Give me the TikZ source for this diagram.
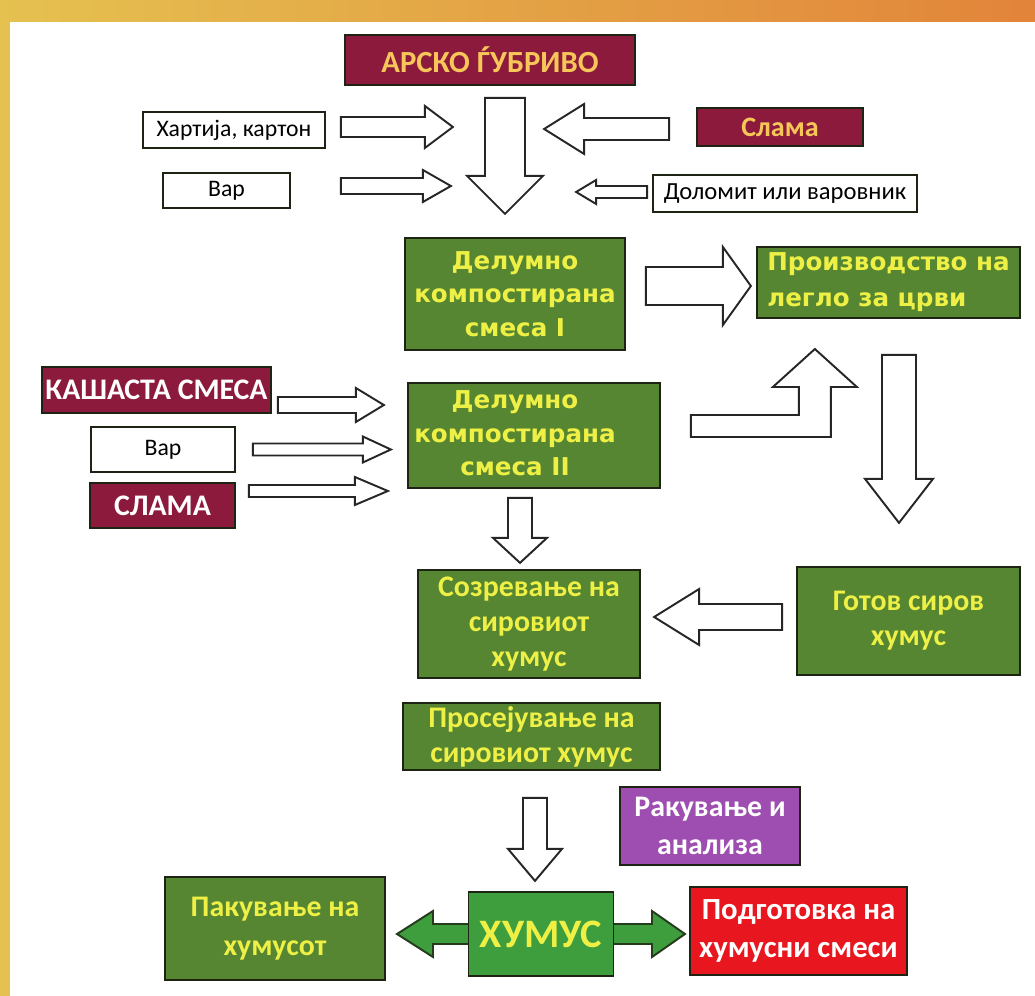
\documentclass[tikz,border=0pt]{standalone}
\usepackage{fontspec}
\setmainfont{Carlito}
\newfontfamily\dejavu{DejaVu Sans}
\usetikzlibrary{calc}

\definecolor{frameyellow}{RGB}{229,193,80}
\definecolor{frameorange}{RGB}{226,132,58}
\definecolor{leafgreen}{RGB}{86,134,50}
\definecolor{humgreen}{RGB}{62,158,62}
\definecolor{wine}{RGB}{140,26,60}
\definecolor{violetbox}{RGB}{158,78,176}
\definecolor{redbox}{RGB}{232,22,30}
\definecolor{txtyellow}{RGB}{238,240,70}
\definecolor{txtorange}{RGB}{246,198,88}
\definecolor{boxedge}{RGB}{30,36,20}

\tikzset{
  cell/.style 2 args={minimum width=#1*0.02cm, minimum height=#2*0.02cm,
    inner sep=0pt, align=center, draw=boxedge, line width=1pt},
  plaincell/.style={fill=white, text=black, font=\fontsize{13.5}{16}\selectfont},
  winecell/.style={fill=wine, font=\bfseries\fontsize{17}{20}\selectfont},
  greencell/.style={fill=leafgreen, text=txtyellow, font=\bfseries\fontsize{17}{20}\selectfont},
  widecell/.style={fill=leafgreen, text=txtyellow, font=\dejavu\bfseries\fontsize{14}{19}\selectfont},
  arrowline/.style={draw=black!85, fill=white, line width=1.1pt, line join=miter},
  pics/blockarrow/.style n args={4}{code={
    \draw[arrowline] (0,-#2) -- ({#1-#4},-#2) -- ({#1-#4},-#3) -- (#1,0)
      -- ({#1-#4},#3) -- ({#1-#4},#2) -- (0,#2) -- cycle;
  }},
}

\begin{document}
\begin{tikzpicture}[x=0.02cm, y=-0.02cm]
\useasboundingbox (0,0) rectangle (1035,996);
% frame
\shade[left color=frameyellow, right color=frameorange] (0,0) rectangle (1035,996);
\fill[white] (10,22) rectangle (1035,996);

% inputs at the top
\node[cell={290}{50}, winecell, text=txtorange, font=\bfseries\fontsize{17.5}{20}\selectfont] (arsko) at (490,60) {АРСКО ЃУБРИВО};
\node[cell={182}{36}, plaincell] (hart) at (234,130) {Хартија, картон};
\node[cell={127}{35}, plaincell] (var1) at (226.5,190.5) {Вар};
\node[cell={166}{38}, winecell, text=txtorange, font=\bfseries\fontsize{16}{19}\selectfont] (slama1) at (780,127) {Слама};
\node[cell={264}{37}, plaincell, font=\fontsize{14}{16}\selectfont] (dolomit) at (785,193.5) {Доломит или варовник};

\pic at ($(hart.east)+(15,-3)$) {blockarrow={112}{10}{21}{28}};
\pic at ($(var1.east)+(50,-4.5)$) {blockarrow={110}{8}{16}{28}};
\pic[rotate=-90] at ($(arsko.south)+(15,12)$) {blockarrow={116}{20}{38}{38}};
\pic[rotate=180] at ($(slama1.west)+(-27,2)$) {blockarrow={125}{11}{25}{40}};
\pic[rotate=180] at ($(dolomit.west)+(-5,-1.5)$) {blockarrow={71}{6}{12}{20}};

% compost stages
\node[cell={220}{112}, widecell] (mix1) at (515,294) {Делумно\\компостирана\\смеса I};
\node[cell={263}{71}, widecell, align=left, font=\dejavu\bfseries\fontsize{14}{20.5}\selectfont] (worm) at (888.5,282.5) {Производство на\\легло за црви};
\node[cell={252}{105}, widecell, align=none] (mix2) at (534,435.5)
  {\begin{tabular}{@{}c@{}}Делумно\\компостирана\\смеса II\end{tabular}\kern0.76cm};

\pic at ($(mix1.east)+(20,-8)$) {blockarrow={105}{19}{39}{28}};
\draw[arrowline] ($(mix2.east)+(30,1.5)$) -- ++(0,-22) -- ++(108,0) -- ++(0,-28)
  -- ++(-26,0) -- ++(42,-38) -- ++(42,38) -- ++(-26,0) -- ++(0,50) -- cycle;
\pic[rotate=-90] at ($(worm.south)+(10.5,36)$) {blockarrow={168}{17}{34}{44}};

% side inputs
\node[cell={229}{46}, winecell, text=white] (kash) at (156.5,390) {КАШАСТА СМЕСА};
\node[cell={144}{45}, plaincell] (var2) at (163,449.5) {Вар};
\node[cell={145}{45}, winecell, text=white] (slama2) at (162.5,505.5) {СЛАМА};

\pic at ($(kash.east)+(6,15)$) {blockarrow={106}{8}{17}{28}};
\pic at ($(var2.east)+(17,0)$) {blockarrow={138}{6}{13}{28}};
\pic at ($(slama2.east)+(13,-14.5)$) {blockarrow={139}{6}{14}{33}};

% humus
\node[cell={222}{108}, greencell] (ripe) at (529,624) {Созревање на\\сировиот\\хумус};
\node[cell={223}{108}, greencell] (ready) at (908.5,621) {Готов сиров\\хумус};
\node[cell={257}{67}, greencell] (sieve) at (531.5,736.5) {Просејување на\\сировиот хумус};
\node[cell={180}{78}, fill=violetbox, text=white, font=\bfseries\fontsize{17}{22}\selectfont] (analysis) at (710,826) {Ракување и\\анализа};

\pic[rotate=-90] at ($(mix2.south)+(-14,9)$) {blockarrow={65}{12}{27}{25}};
\pic[rotate=180] at ($(ready.west)+(-14,-4)$) {blockarrow={128}{13}{28}{45}};
\pic[rotate=-90] at ($(sieve.south)+(3.5,27)$) {blockarrow={83}{12}{27}{32}};

% end products
\coordinate (hc) at (541,934);
\draw[draw=boxedge!80!humgreen, fill=humgreen, line width=1.1pt, line join=miter]
  ($(hc)+(-144,0)$) -- ++(36,-23) -- ++(0,13) -- ++(219,0) -- ++(0,-13) -- ++(33,23)
  -- ++(-33,23) -- ++(0,-13) -- ++(-219,0) -- ++(0,13) -- cycle;
\node[cell={145}{84}, fill=humgreen, text=txtyellow, font=\bfseries\fontsize{23}{26}\selectfont] (humus) at (hc) {ХУМУС};
\node[cell={220}{103}, greencell, font=\bfseries\fontsize{17}{22.5}\selectfont] (pack) at (275,928.5) {Пакување на\\хумусот};
\node[cell={217}{88}, fill=redbox, text=white, font=\bfseries\fontsize{17.5}{21.5}\selectfont] (prep) at (798.5,931) {Подготовка на\\хумусни смеси};
\end{tikzpicture}
\end{document}
